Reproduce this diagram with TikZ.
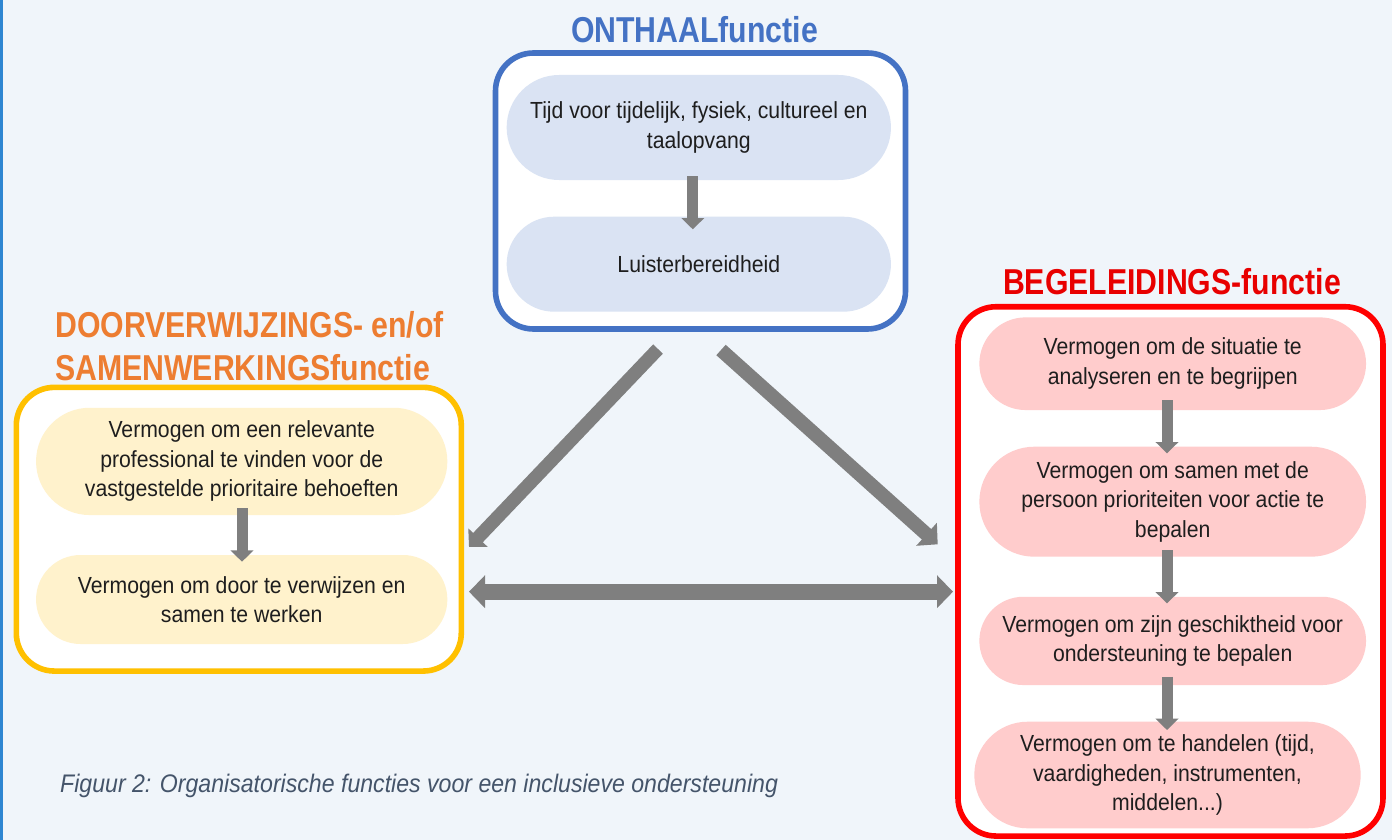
\documentclass[tikz,border=0pt]{standalone}
\usepackage{fontspec}
\setmainfont{Liberation Sans}
\newfontfamily\bodyfont[FakeStretch=0.91]{Liberation Sans}
\newfontfamily\titlefont[FakeStretch=0.84]{Liberation Sans}
\usetikzlibrary{arrows.meta,calc}
\definecolor{bg}{HTML}{F0F5FA}
\definecolor{leftbar}{HTML}{2E86D1}
\definecolor{bluebox}{HTML}{4472C4}
\definecolor{bluepill}{HTML}{DAE3F3}
\definecolor{yelbox}{HTML}{FFC000}
\definecolor{yelpill}{HTML}{FFF2CC}
\definecolor{redbox}{HTML}{FF0000}
\definecolor{redpill}{HTML}{FFCCCC}
\definecolor{orangetitle}{HTML}{ED7D31}
\definecolor{redtitle}{HTML}{E80000}
\definecolor{captioncol}{HTML}{44546A}
\definecolor{arrowgray}{HTML}{7F7F7F}
\definecolor{bodytext}{HTML}{1E1E1E}
\tikzset{
  group/.style={draw=#1, line width=5.6pt, fill=white, rounded corners=38pt,
    inner sep=0pt, outer sep=0pt},
  pill/.style n args={3}{fill=#1, minimum width=#2, minimum height=#3,
    rounded corners={#3/2}, inner sep=0pt, outer sep=0pt, align=center,
    text=bodytext, font={\bodyfont\fontsize{23.3}{29.5}\selectfont}},
  ttl/.style={font={\titlefont\bfseries\fontsize{36}{42}\selectfont}, inner sep=0pt},
  smallarr/.style={draw=arrowgray, line width=11pt,
    -{Triangle[width=22.4pt,length=11.3pt]}},
  bigarr/.style={draw=arrowgray, line width=13.4pt,
    -{Triangle[width=26pt,length=13pt]}},
  bigarrR/.style={draw=arrowgray, line width=14pt,
    -{Triangle[width=30pt,length=15pt]}},
  dblarr/.style={draw=arrowgray, line width=16pt,
    {Triangle[width=32pt,length=16pt]}-{Triangle[width=32pt,length=16pt]}},
}
\begin{document}
\begin{tikzpicture}[x=1pt,y=-1pt]
\useasboundingbox (0,0) rectangle (1392,840);
\fill[bg] (0,0) rectangle (1392,840);
\draw[leftbar, line width=2.6pt] (1.5,0) -- (1.5,840);

% group boxes
\node[group=bluebox, minimum width=410pt, minimum height=276pt] (blue) at (700.5,191) {};
\node[group=yelbox, minimum width=445pt, minimum height=283.7pt] (yel) at (238.8,529.2) {};
\node[group=redbox, minimum width=425pt, minimum height=529.3pt] (red) at (1170.5,571.4) {};

% titles
\node[ttl, text=bluebox, anchor=base] (ttlblue) at (694.5,43) {ONTHAALfunctie};
\node[ttl, text=orangetitle, anchor=base west] (ttlor1) at (55,337) {DOORVERWIJZINGS- en/of};
\node[ttl, text=orangetitle, anchor=base west] (ttlor2) at (55,380) {SAMENWERKINGSfunctie};
\node[ttl, text=redtitle, anchor=base] (ttlred) at (1172,294) {BEGELEIDINGS-functie};

% blue pills
\node[pill={bluepill}{384.3pt}{105pt}] (b1) at (698.8,127.5) {Tijd voor tijdelijk, fysiek, cultureel en\\taalopvang};
\node[pill={bluepill}{384.3pt}{95pt}] (b2) at (698.8,264.2) {Luisterbereidheid};

% yellow pills
\node[pill={yelpill}{411.3pt}{107.3pt}] (y1) at (241.7,461.4) {Vermogen om een relevante\\professional te vinden voor de\\vastgestelde prioritaire behoeften};
\node[pill={yelpill}{411.3pt}{89pt}] (y2) at (241.7,599.5) {Vermogen om door te verwijzen en\\samen te werken};

% red pills
\node[pill={redpill}{386.7pt}{92.7pt}] (r1) at (1172.7,363.7) {Vermogen om de situatie te\\analyseren en te begrijpen};
\node[pill={redpill}{386.7pt}{110pt}] (r2) at (1172.7,501.7) {Vermogen om samen met de\\persoon prioriteiten voor actie te\\bepalen};
\node[pill={redpill}{386.7pt}{88.3pt}] (r3) at (1172.7,640.9) {Vermogen om zijn geschiktheid voor\\ondersteuning te bepalen};
\node[pill={redpill}{386.4pt}{106.6pt}] (r4) at (1167.5,775) {Vermogen om te handelen (tijd,\\vaardigheden, instrumenten,\\middelen...)};

% small arrows
\draw[smallarr] ($(b1.south)+(-6,-4)$) -- ($(b2.north)+(-6,12.6)$);
\draw[smallarr] ($(y1.south)+(0.3,-6.7)$) -- ($(y2.north)+(0.3,6.7)$);
\draw[smallarr] ($(r1.south)+(-5.7,-10)$) -- ($(r2.north)+(-5.7,6.6)$);
\draw[smallarr] ($(r2.south)+(-5.7,-6.7)$) -- ($(r3.north)+(-5.7,6.6)$);
\draw[smallarr] ($(r3.south)+(-5.7,-8.3)$) -- ($(r4.north)+(-0.5,8.3)$);

% big arrows
\draw[bigarr] ($(blue.south)+(-42.5,20)$) -- ($(yel.east)+(7.7,17.8)$);
\draw[bigarrR] ($(blue.south)+(20.5,21)$) -- ($(red.west)+(-20.3,-27.1)$);
\draw[dblarr] ($(yel.east)+(7.7,62.5)$) -- ($(red.west)+(-5,20.3)$);

% caption
\node[anchor=base west, inner sep=0pt, text=captioncol,
  font={\bodyfont\itshape\fontsize{25.4}{30}\selectfont}] (caption) at (60,792.5)
  {Figuur 2: Organisatorische functies voor een inclusieve ondersteuning};
\end{tikzpicture}
\end{document}
